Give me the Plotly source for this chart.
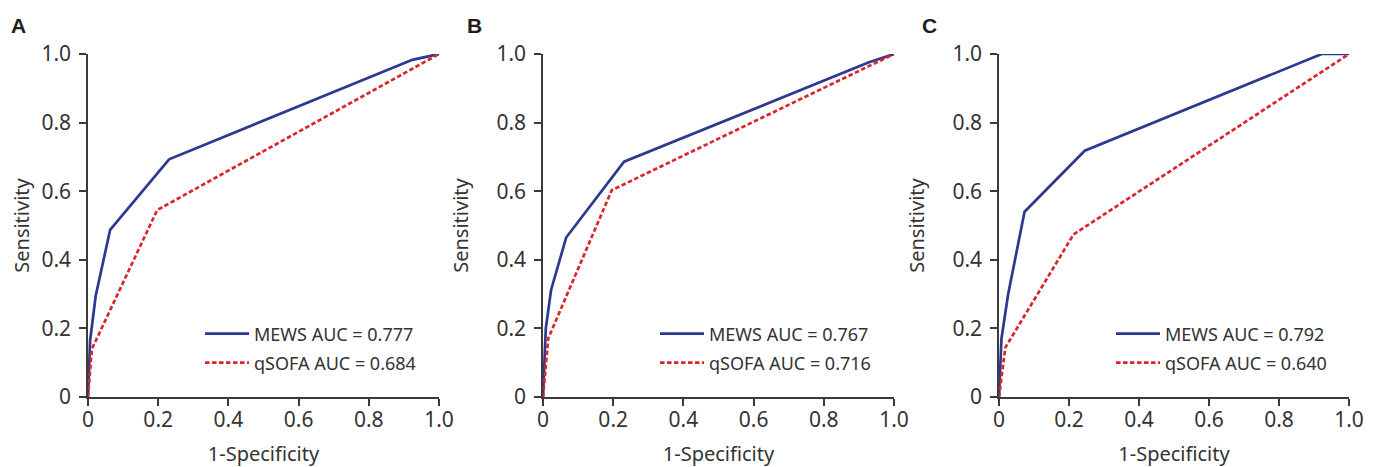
import plotly.graph_objects as go

# ---- data ----
panel_labels = ["A", "B", "C"]
mews_auc = ["0.777", "0.767", "0.792"]
qsofa_auc = ["0.684", "0.716", "0.640"]

mews_a_x = [0, 0.006, 0.022, 0.063, 0.231, 0.924, 1.0]
mews_a_y = [0, 0.165, 0.295, 0.487, 0.693, 0.983, 1.0]
qsofa_a_x = [0, 0.011, 0.197, 1.0]
qsofa_a_y = [0, 0.140, 0.545, 1.0]

mews_b_x = [0, 0.008, 0.023, 0.066, 0.231, 0.927, 1.0]
mews_b_y = [0, 0.200, 0.312, 0.465, 0.686, 0.975, 1.0]
qsofa_b_x = [0, 0.015, 0.196, 1.0]
qsofa_b_y = [0, 0.171, 0.603, 1.0]

mews_c_x = [0, 0.007, 0.026, 0.073, 0.245, 0.922, 1.0]
mews_c_y = [0, 0.170, 0.299, 0.540, 0.718, 1.0, 1.0]
qsofa_c_x = [0, 0.018, 0.213, 1.0]
qsofa_c_y = [0, 0.144, 0.474, 1.0]

tick_vals = [0, 0.2, 0.4, 0.6, 0.8, 1.0]
tick_text = ["0", "0.2", "0.4", "0.6", "0.8", "1.0"]

x_title = "1-Specificity"
y_title = "Sensitivity"

# ---- style ----
BLUE = "#2b3990"
RED = "#d8262d"
AXIS = "#3a3a3a"
TEXT = "#333333"
FONT = "Noto Sans"

OFF = 8  # page body margin
W, H = 1379 - OFF, 467 - OFF
ML, MT = 88 - OFF, 54 - OFF
MR = W - (1349 - OFF)
MB = H - (397 - OFF)
PW = W - ML - MR
PH = H - MT - MB

domains = [[0.0, 351 / PW], [455 / PW, 806 / PW], [911 / PW, 1.0]]
letter_px = [18, 474, 929]
legend_px = [200, 655, 1111]

mews = [(mews_a_x, mews_a_y), (mews_b_x, mews_b_y), (mews_c_x, mews_c_y)]
qsofa = [(qsofa_a_x, qsofa_a_y), (qsofa_b_x, qsofa_b_y), (qsofa_c_x, qsofa_c_y)]


def px_to_paper_x(px):
    return (px - OFF - ML) / PW


def py_to_paper_y(py):
    return (H - MB - (py - OFF)) / PH


fig = go.Figure()
layout = dict(
    width=W, height=H,
    margin=dict(l=ML, r=MR, t=MT, b=MB, autoexpand=False),
    paper_bgcolor="white", plot_bgcolor="white",
    font=dict(family=FONT, color=TEXT, size=20),
    showlegend=True,
    annotations=[],
)

for i in range(3):
    sfx = "" if i == 0 else str(i + 1)
    lg1 = "legend" if i == 0 else "legend" + str(2 * i + 1)
    lg2 = "legend" + str(2 * i + 2)
    fig.add_trace(go.Scatter(
        x=mews[i][0], y=mews[i][1], mode="lines",
        name="MEWS AUC = " + mews_auc[i], showlegend=True,
        line=dict(color=BLUE, width=2.7),
        xaxis="x" + sfx, yaxis="y" + sfx, legend=lg1,
    ))
    fig.add_trace(go.Scatter(
        x=qsofa[i][0], y=qsofa[i][1], mode="lines",
        name="qSOFA AUC = " + qsofa_auc[i], showlegend=True,
        line=dict(color=RED, width=2.7, dash="4.5px,2.5px"),
        xaxis="x" + sfx, yaxis="y" + sfx, legend=lg2,
    ))
    axis_common = dict(
        range=[0, 1], tickvals=tick_vals, ticktext=tick_text,
        showgrid=False, zeroline=False, showline=True, automargin=False,
        linecolor=AXIS, linewidth=1.5,
        ticks="outside", ticklen=7, tickwidth=1.5, tickcolor=AXIS,
        tickfont=dict(size=21, color=TEXT, family=FONT),
    )
    layout["xaxis" + sfx] = dict(
        axis_common, domain=domains[i], anchor="y" + sfx,
        ticklabelstandoff=-4,
        title=dict(text=x_title, font=dict(size=20, color=TEXT), standoff=19),
    )
    layout["yaxis" + sfx] = dict(
        axis_common, domain=[0, 1], anchor="x" + sfx,
        ticklabelstandoff=4,
        title=dict(text=y_title, font=dict(size=20, color=TEXT), standoff=22),
    )
    lx = px_to_paper_x(legend_px[i])
    for lg, ypx in ((lg1, 334), (lg2, 363)):
        layout[lg] = dict(
            x=lx, xanchor="left", y=py_to_paper_y(ypx), yanchor="middle",
            bgcolor="rgba(0,0,0,0)", borderwidth=0,
            font=dict(size=18, color=TEXT, family=FONT),
            itemwidth=44, visible=True,
        )
    layout["annotations"].append(dict(
        text="<b>" + panel_labels[i] + "</b>", showarrow=False,
        xref="paper", yref="paper",
        x=px_to_paper_x(letter_px[i]), y=py_to_paper_y(25.5),
        xanchor="center", yanchor="middle",
        font=dict(size=21, color="#1e1e1e", family="Liberation Sans"),
    ))

fig.update_layout(**layout)
fig.write_html("out.html")
